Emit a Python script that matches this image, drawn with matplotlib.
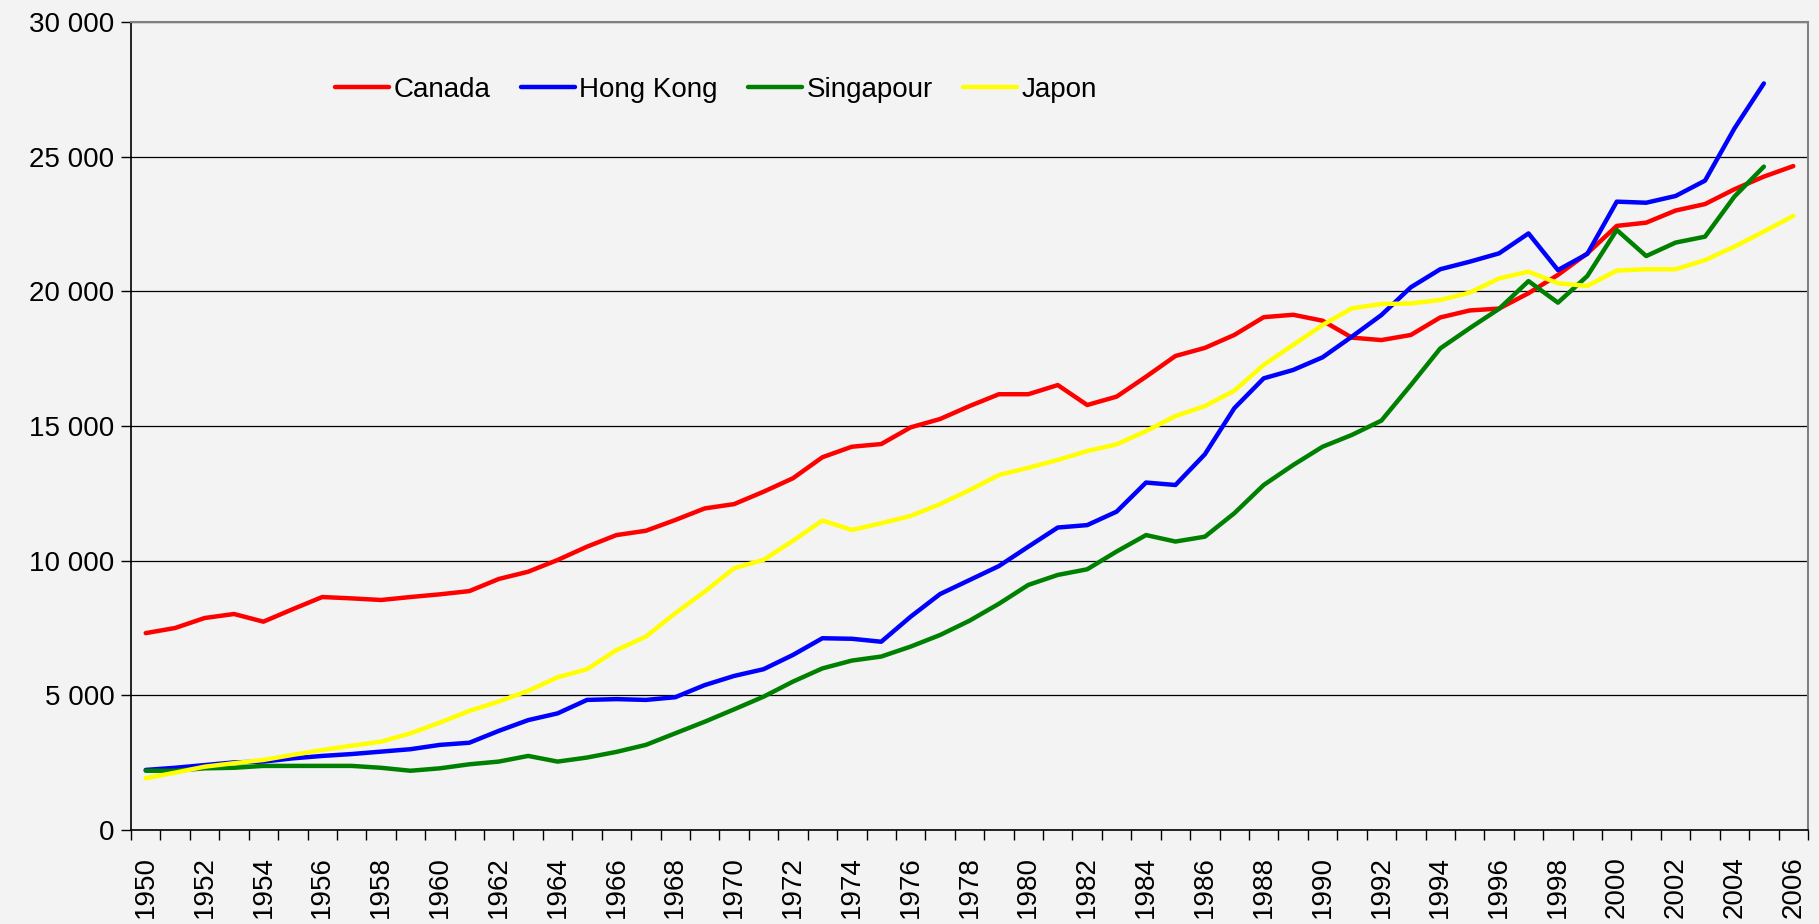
import numpy as np
import matplotlib.pyplot as plt
from matplotlib.ticker import FuncFormatter

plt.rcParams['font.family'] = ['Liberation Sans', 'DejaVu Sans']

# années (axe des catégories)
years = list(range(1950, 2007))

# séries
canada = [7310, 7500, 7870, 8020, 7735, 8200, 8650, 8600, 8540, 8650,
          8750, 8870, 9320, 9590, 10025, 10520, 10950, 11110, 11510, 11940,
          12100, 12560, 13060, 13840, 14230, 14330, 14950, 15260, 15740, 16180,
          16180, 16520, 15780, 16090, 16830, 17600, 17900, 18380, 19040, 19130,
          18910, 18280, 18190, 18380, 19030, 19290, 19360, 19930, 20610, 21410,
          22430, 22550, 23000, 23240, 23790, 24260, 24650]

hong_kong = [2230, 2310, 2410, 2510, 2540, 2660, 2750, 2820, 2910, 3000,
             3160, 3240, 3680, 4080, 4330, 4830, 4860, 4830, 4930, 5380,
             5720, 5970, 6500, 7120, 7100, 6990, 7920, 8760, 9280, 9800,
             10520, 11230, 11320, 11820, 12900, 12810, 13950, 15660, 16770, 17080,
             17550, 18320, 19120, 20150, 20820, 21100, 21410, 22150, 20790, 21390,
             23330, 23290, 23540, 24110, 26050, 27720, np.nan]

singapour = [2200, 2200, 2290, 2310, 2380, 2380, 2380, 2380, 2310, 2200,
             2290, 2440, 2540, 2750, 2540, 2690, 2900, 3160, 3590, 4020,
             4480, 4950, 5510, 6000, 6290, 6440, 6810, 7240, 7770, 8400,
             9100, 9470, 9680, 10340, 10950, 10710, 10890, 11760, 12810, 13550,
             14230, 14670, 15200, 16520, 17880, 18630, 19350, 20380, 19580, 20570,
             22280, 21310, 21810, 22030, 23520, 24630, np.nan]

japon = [1920, 2130, 2350, 2480, 2600, 2790, 2970, 3130, 3280, 3590,
         3990, 4420, 4770, 5170, 5670, 5970, 6680, 7180, 8050, 8850,
         9720, 10030, 10740, 11490, 11140, 11390, 11660, 12100, 12620, 13180,
         13450, 13740, 14070, 14320, 14810, 15370, 15740, 16310, 17270, 18010,
         18750, 19370, 19530, 19550, 19680, 19950, 20480, 20730, 20300, 20200,
         20770, 20820, 20820, 21160, 21660, 22220, 22800]

series = [('Canada', canada, '#ff0000'),
          ('Hong Kong', hong_kong, '#0000ff'),
          ('Singapour', singapour, '#008000'),
          ('Japon', japon, '#ffff00')]

bg = '#f3f3f3'
fig = plt.figure(figsize=(18.19, 9.24), dpi=100, facecolor=bg)
ax = fig.add_axes([131/1819, 1-830/924, (1808-131)/1819, (830-22)/924])
ax.set_facecolor(bg)

x = np.arange(len(years))
for name, vals, col in series:
    ax.plot(x, vals, color=col, lw=3.2, label=name, solid_capstyle='round')

ax.set_xlim(-0.5, len(years)-0.5)
ax.set_ylim(0, 30000)

# grille horizontale
ax.set_yticks(np.arange(0, 30001, 5000))
ax.yaxis.set_major_formatter(FuncFormatter(lambda v, p: f'{int(v):,}'.replace(',', ' ')))
ax.grid(axis='y', color='black', lw=0.9)
ax.set_axisbelow(True)

# étiquettes une année sur deux, graduations entre les catégories
ax.set_xticks(x[::2])
ax.set_xticklabels([str(y) for y in years[::2]], rotation=90)
ax.set_xticks(np.arange(len(years)+1)-0.5, minor=True)
ax.tick_params(axis='x', which='major', length=0, pad=19, labelsize=20)
ax.tick_params(axis='x', which='minor', length=7, width=1, direction='out')
ax.tick_params(axis='y', length=7, width=1, pad=5, labelsize=20)

for s in ['left', 'bottom']:
    ax.spines[s].set_color('black')
    ax.spines[s].set_linewidth(1.2)
for s in ['top', 'right']:
    ax.spines[s].set_color('#808080')
    ax.spines[s].set_linewidth(1.5)

ax.legend(loc='center left', bbox_to_anchor=(335/1819, 1-90/924),
          bbox_transform=fig.transFigure, ncol=4, frameon=False,
          fontsize=20, handlelength=1.95, handletextpad=0.15,
          columnspacing=1.1, borderpad=0, borderaxespad=0)

fig.savefig('out.png', dpi=100, facecolor=bg)
